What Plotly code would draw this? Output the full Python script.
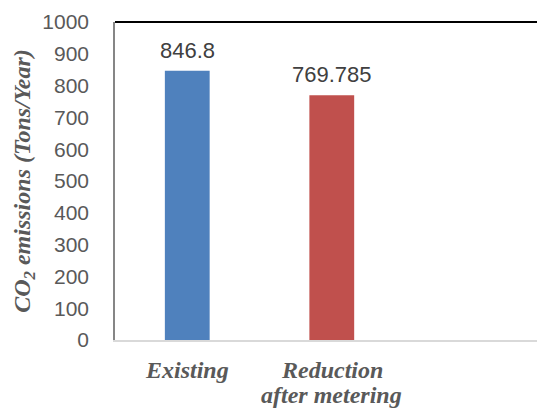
import plotly.graph_objects as go

categories = ["Existing", "Reduction\nafter metering"]
values = [846.8, 769.785]
value_labels = ["846.8", "769.785"]
colors = ["#4F81BD", "#C0504D"]
y_ticks = list(range(0, 1001, 100))

x_pos = list(range(len(categories)))

SANS = "Arial, Liberation Sans, sans-serif"
SERIF = "Times New Roman, Liberation Serif, DejaVu Serif, serif"

fig = go.Figure()
fig.add_trace(go.Bar(
    x=x_pos, y=values, marker=dict(color=colors, line=dict(width=0)),
    width=0.31, showlegend=False, hoverinfo="skip",
))

annotations = []
# data labels
for xi, v, lab in zip(x_pos, values, value_labels):
    annotations.append(dict(
        x=xi, y=v, xref="x", yref="y", text=lab, showarrow=False,
        xanchor="center", yanchor="bottom", yshift=6,
        font=dict(family=SANS, size=22, color="#404040"),
    ))
# category labels (one annotation per text line)
for xi, cat in zip(x_pos, categories):
    for li, line in enumerate(cat.split("\n")):
        annotations.append(dict(
            x=xi, y=0, xref="x", yref="paper", text="<b><i>" + line + "</i></b>",
            showarrow=False, xanchor="center", yanchor="top", yshift=-15 - 25 * li,
            font=dict(family=SERIF, size=24, color="#595959"),
        ))
# y-axis title
annotations.append(dict(
    x=-91 / 421, y=0.5, xref="paper", yref="paper",
    text="<b><i>CO<sub>2</sub> emissions (Tons/Year)</i></b>", showarrow=False,
    textangle=-90, xanchor="center", yanchor="middle",
    font=dict(family=SERIF, size=24, color="#595959"),
))

fig.update_layout(
    width=537, height=409,
    margin=dict(l=115, r=0, t=22, b=69, pad=0),
    paper_bgcolor="white", plot_bgcolor="white",
    annotations=annotations,
    shapes=[dict(type="line", xref="paper", yref="paper", x0=0, x1=1, y0=1, y1=1,
                 line=dict(color="black", width=2))],
    xaxis=dict(range=[-0.5, 2.42], showticklabels=False, showgrid=False,
               zeroline=False, showline=True, linecolor="#d9d9d9", linewidth=1.5,
               ticks=""),
    yaxis=dict(range=[0, 1000], tickvals=y_ticks, showgrid=False, zeroline=False,
               showline=True, linecolor="#868686", linewidth=1.5, ticks="",
               ticklabelstandoff=20,
               tickfont=dict(family=SANS, size=21, color="#595959")),
)

fig.write_html("out.html")
